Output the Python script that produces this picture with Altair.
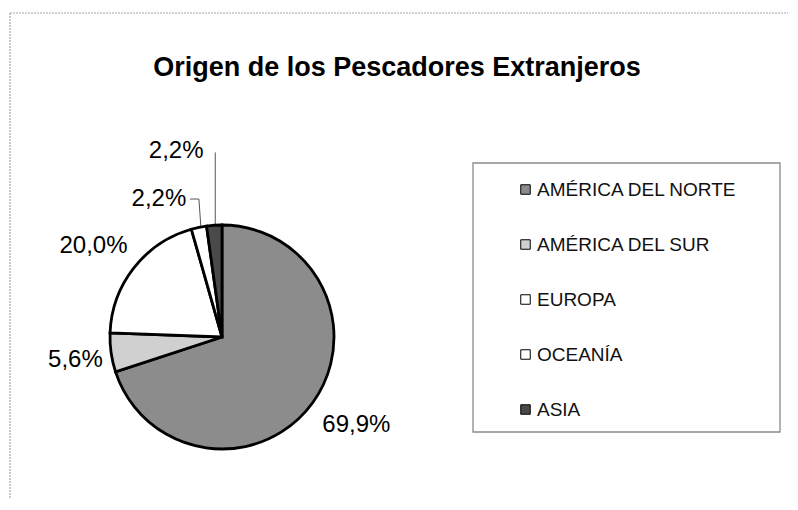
import math
import numpy as np
import pandas as pd
import altair as alt

# ---- data ----
categories = ["AMÉRICA DEL NORTE", "AMÉRICA DEL SUR", "EUROPA", "OCEANÍA", "ASIA"]
percent = [69.9, 5.6, 20.0, 2.2, 2.2]
labels = ["69,9%", "5,6%", "20,0%", "2,2%", "2,2%"]
colors = ["#8c8c8c", "#d0d0d0", "#ffffff", "#ffffff", "#4a4a4a"]
title_text = "Origen de los Pescadores Extranjeros"

# ---- layout ----
CX, CY, R = 214, 329, 112
FONT = "Liberation Sans"
# per label: radius, dx, dy
label_pos = [(161, 4, -7), (148, 0, 2), (157, -5, 6), (141, -34, 0), (186, -33, 0)]

total = float(sum(percent))
cum = np.cumsum(percent)
mid = cum - np.array(percent) / 2.0

df = pd.DataFrame({
    "cat": categories,
    "pct": percent,
    "label": labels,
    "order": list(range(len(categories))),
    "mid": mid,
})

theta_scale = alt.Scale(domain=[0, total], range=[0, 2 * math.pi])
color_scale = alt.Scale(domain=categories, range=colors)

one = pd.DataFrame({"a": [0]})

frame_top = alt.Chart(one).mark_rule(color="#a8a8a8", strokeWidth=1.2, strokeDash=[2, 1]).encode(
    x=alt.value(2), x2=alt.value(780), y=alt.value(5))
frame_left = alt.Chart(one).mark_rule(color="#a8a8a8", strokeWidth=1.2, strokeDash=[2, 1]).encode(
    x=alt.value(2), y=alt.value(5), y2=alt.value(490))

legend_box = alt.Chart(one).mark_rect(fill="white", stroke="#8a8a8a", strokeWidth=1.3).encode(
    x=alt.value(465), x2=alt.value(772), y=alt.value(155), y2=alt.value(424))

title = alt.Chart(one).mark_text(
    text=title_text, font=FONT, fontSize=27, fontWeight="bold", color="black",
    align="center", baseline="middle").encode(x=alt.value(389), y=alt.value(60))

pie = alt.Chart(df).mark_arc(outerRadius=R, stroke="black", strokeWidth=2.8).encode(
    theta=alt.Theta("pct:Q", stack=True, scale=theta_scale),
    order=alt.Order("order:Q"),
    color=alt.Color(
        "cat:N", scale=color_scale, sort=categories,
        legend=alt.Legend(
            title=None, orient="none", legendX=508, legendY=172,
            symbolType="square", symbolSize=90, symbolStrokeColor="black",
            symbolStrokeWidth=1, symbolOpacity=1,
            labelFont=FONT, labelFontSize=19, labelColor="#111111",
            labelOffset=2, rowPadding=35, padding=0, labelLimit=400,
        ),
    ),
    x=alt.value(CX), y=alt.value(CY),
)

texts = []
lead_rows = []
for i, cat in enumerate(categories):
    r, dx, dy = label_pos[i]
    t = alt.Chart(df).transform_filter(alt.datum.cat == cat).mark_text(
        radius=r, dx=dx, dy=dy, font=FONT, fontSize=24, color="black",
        align="center", baseline="middle").encode(
        theta=alt.Theta("mid:Q", scale=theta_scale),
        text="label:N", x=alt.value(CX), y=alt.value(CY))
    texts.append(t)
    # leader lines for the two small slices
    a = 2 * math.pi * mid[i] / total
    ex, ey = CX + R * math.sin(a), CY - R * math.cos(a)
    lx, ly = CX + r * math.sin(a) + dx, CY - r * math.cos(a) + dy
    if cat == "ASIA":
        lead_rows += [dict(seg=cat, o=0, x=ex + 1, y=ly + 1), dict(seg=cat, o=1, x=ex + 1, y=ey)]
    if cat == "OCEANÍA":
        lead_rows += [dict(seg=cat, o=0, x=lx + 31, y=ly), dict(seg=cat, o=1, x=ex, y=ly),
                      dict(seg=cat, o=2, x=ex + 2, y=ey)]

leaders = alt.Chart(pd.DataFrame(lead_rows)).mark_line(color="#555555", strokeWidth=1).encode(
    x=alt.X("x:Q", scale=None, axis=None),
    y=alt.Y("y:Q", scale=None, axis=None),
    detail="seg:N", order="o:Q")

chart = alt.layer(frame_top, frame_left, legend_box, title, leaders, pie, *texts).properties(
    width=780, height=490, padding=0, autosize=alt.AutoSizeParams(type="none"),
    background="white",
).configure_view(stroke=None)

chart.save("out.html", embed_options={"renderer": "svg", "actions": False})
